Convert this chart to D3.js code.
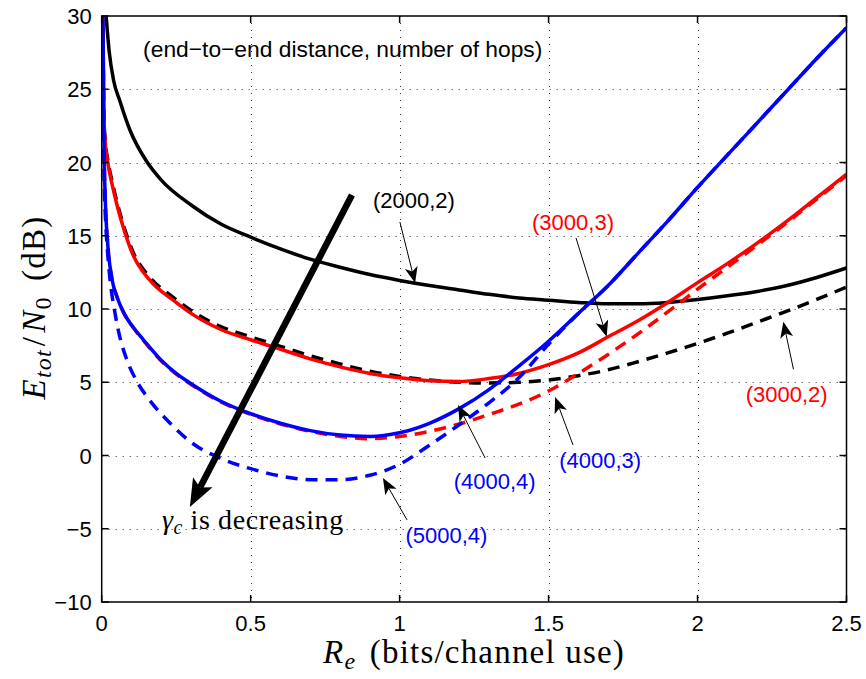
<!DOCTYPE html>
<html>
<head>
<meta charset="utf-8">
<script src="https://cdnjs.cloudflare.com/ajax/libs/d3/7.8.5/d3.min.js"></script>
<style>
body { margin: 0; background: #fff; }
</style>
</head>
<body>
<div id="chart"></div>
<script>
// tick values
var xTicks = [0, 0.5, 1, 1.5, 2, 2.5];
var yTicks = [-10, -5, 0, 5, 10, 15, 20, 25, 30];

// curves: [Re, Etot/N0 dB]
var s2000_2 = [[0.013,30.5],[0.025,27.6],[0.04,25.6],[0.061,24.2],[0.095,22.2],[0.15,20.1],[0.2,18.8],[0.3,17.1],[0.4,15.8],[0.5,14.9],[0.6,14.1],[0.7,13.4],[0.8,12.85],[0.9,12.35],[1.0,11.95],[1.1,11.6],[1.2,11.3],[1.3,11.0],[1.4,10.75],[1.5,10.6],[1.6,10.45],[1.7,10.35],[1.8,10.35],[1.9,10.45],[2.0,10.65],[2.1,10.9],[2.2,11.2],[2.3,11.6],[2.4,12.15],[2.5,12.8]];
var s3000_2 = [[0.004,30.5],[0.007,23.2],[0.012,21.5],[0.022,20.0],[0.035,18.7],[0.05,17.4],[0.075,15.6],[0.105,13.9],[0.16,12.2],[0.24,10.8],[0.3,9.9],[0.4,8.8],[0.5,8.1],[0.6,7.45],[0.7,6.8],[0.8,6.25],[0.9,5.75],[1.0,5.4],[1.1,5.15],[1.2,5.0],[1.3,4.95],[1.4,5.0],[1.5,5.15],[1.6,5.45],[1.7,5.85],[1.8,6.4],[1.9,7.0],[2.0,7.65],[2.1,8.35],[2.2,9.1],[2.3,9.85],[2.4,10.65],[2.5,11.5]];
var s3000_3 = [[0.004,30.5],[0.007,23],[0.012,21.3],[0.022,19.8],[0.035,18.5],[0.05,17.2],[0.075,15.4],[0.105,13.7],[0.16,12.0],[0.24,10.6],[0.3,9.7],[0.4,8.6],[0.5,7.9],[0.6,7.25],[0.7,6.6],[0.8,6.05],[0.9,5.6],[1.0,5.3],[1.1,5.1],[1.2,5.05],[1.3,5.25],[1.4,5.6],[1.5,6.2],[1.6,7.0],[1.7,8.1],[1.8,9.2],[1.9,10.45],[2.0,11.8],[2.1,13.1],[2.2,14.5],[2.3,16.0],[2.4,17.6],[2.5,19.2]];
var s4000_3 = [[0.004,30.5],[0.008,21],[0.012,17.5],[0.02,14.5],[0.035,12.0],[0.05,10.9],[0.075,9.7],[0.1,8.9],[0.14,7.85],[0.2,6.45],[0.25,5.55],[0.3,4.85],[0.4,3.65],[0.5,2.8],[0.6,2.15],[0.7,1.65],[0.8,1.3],[0.9,1.15],[1.0,1.3],[1.1,1.65],[1.2,2.15],[1.3,2.8],[1.4,3.5],[1.5,4.4],[1.6,5.6],[1.7,6.9],[1.8,8.3],[1.9,9.8],[2.0,11.35],[2.1,12.85],[2.2,14.35],[2.3,15.9],[2.4,17.5],[2.5,19.1]];
var s4000_4 = [[0.004,30.5],[0.008,21],[0.012,17.5],[0.02,14.5],[0.035,12.0],[0.05,10.9],[0.075,9.7],[0.1,8.9],[0.14,7.9],[0.2,6.5],[0.25,5.6],[0.3,4.9],[0.4,3.7],[0.5,2.85],[0.6,2.2],[0.7,1.7],[0.8,1.4],[0.9,1.3],[1.0,1.55],[1.1,2.2],[1.2,3.2],[1.3,4.5],[1.4,6.1],[1.5,7.8],[1.6,9.7],[1.7,11.6],[1.8,13.8],[1.9,16.0],[2.0,18.3],[2.1,20.5],[2.2,22.7],[2.3,24.9],[2.4,27.1],[2.5,29.2]];
var s5000_4 = [[0.004,25],[0.008,19],[0.012,16.5],[0.02,13.8],[0.028,12.0],[0.044,9.8],[0.062,8.0],[0.085,6.5],[0.117,5.1],[0.16,3.8],[0.23,2.2],[0.3,0.9],[0.4,-0.2],[0.5,-0.9],[0.6,-1.4],[0.7,-1.65],[0.8,-1.65],[0.9,-1.35],[1.0,-0.6],[1.1,0.7],[1.2,2.1],[1.3,3.6],[1.4,5.3],[1.5,7.6],[1.6,9.7],[1.7,11.6],[1.8,13.8],[1.9,16.0],[2.0,18.3],[2.1,20.5],[2.2,22.7],[2.3,24.9],[2.4,27.1],[2.5,29.2]];

var width = 866;
var height = 679;
var margin = {top: 16, right: 19.5, bottom: 77, left: 101.7};

var svg = d3.select("#chart")
	.append("svg")
	.attr("width", width)
	.attr("height", height);

var x = d3.scaleLinear()
	.domain([0, 2.5])
	.range([margin.left, width - margin.right]);

var y = d3.scaleLinear()
	.domain([-10, 30])
	.range([height - margin.bottom, margin.top]);

svg.append("defs").append("clipPath")
	.attr("id", "plot-clip")
	.append("rect")
	.attr("x", x(0))
	.attr("y", y(30))
	.attr("width", x(2.5) - x(0))
	.attr("height", y(-10) - y(30));

// dotted grid
var grid = svg.append("g")
	.attr("stroke", "#333")
	.attr("stroke-width", 1)
	.attr("stroke-dasharray", "1,6");

grid.selectAll(".vgrid")
	.data(xTicks.slice(1, -1))
	.enter().append("line")
	.attr("x1", function(d) { return Math.round(x(d)) + 0.5; })
	.attr("x2", function(d) { return Math.round(x(d)) + 0.5; })
	.attr("y1", y(30))
	.attr("y2", y(-10));

grid.selectAll(".hgrid")
	.data(yTicks.slice(1, -1))
	.enter().append("line")
	.attr("y1", function(d) { return Math.round(y(d)) + 0.5; })
	.attr("y2", function(d) { return Math.round(y(d)) + 0.5; })
	.attr("x1", x(0))
	.attr("x2", x(2.5));

// curves
var line = d3.line()
	.x(function(d) { return x(d[0]); })
	.y(function(d) { return y(d[1]); })
	.curve(d3.curveMonotoneX);

var series = [
	{data: s2000_2, color: "#000000", dash: null},
	{data: s3000_2, color: "#000000", dash: "12,8"},
	{data: s3000_3, color: "#ff0000", dash: null},
	{data: s4000_3, color: "#ff0000", dash: "12,8"},
	{data: s4000_4, color: "#0000ff", dash: null},
	{data: s5000_4, color: "#0000ff", dash: "12,8"}
];

var curves = svg.append("g")
	.attr("clip-path", "url(#plot-clip)");

curves.selectAll("path")
	.data(series)
	.enter().append("path")
	.attr("d", function(d) { return line(d.data); })
	.attr("fill", "none")
	.attr("stroke", function(d) { return d.color; })
	.attr("stroke-width", 3.5)
	.attr("stroke-dasharray", function(d) { return d.dash; });

// axes box + inward ticks
var tickLen = 7;
var axes = svg.append("g")
	.attr("stroke", "#000")
	.attr("stroke-width", 1.5)
	.attr("fill", "none");

axes.append("rect")
	.attr("x", x(0))
	.attr("y", y(30))
	.attr("width", x(2.5) - x(0))
	.attr("height", y(-10) - y(30));

xTicks.forEach(function(t) {
	axes.append("line").attr("x1", x(t)).attr("x2", x(t)).attr("y1", y(-10)).attr("y2", y(-10) - tickLen);
	axes.append("line").attr("x1", x(t)).attr("x2", x(t)).attr("y1", y(30)).attr("y2", y(30) + tickLen);
});
yTicks.forEach(function(t) {
	axes.append("line").attr("y1", y(t)).attr("y2", y(t)).attr("x1", x(0)).attr("x2", x(0) + tickLen);
	axes.append("line").attr("y1", y(t)).attr("y2", y(t)).attr("x1", x(2.5)).attr("x2", x(2.5) - tickLen);
});

var sans = "'Liberation Sans', Arial, Helvetica, sans-serif";
var serif = "'Liberation Serif', 'Times New Roman', serif";

svg.append("g").selectAll("text")
	.data(xTicks)
	.enter().append("text")
	.attr("x", function(d) { return x(d); })
	.attr("y", y(-10) + 29)
	.attr("text-anchor", "middle")
	.attr("font-family", sans)
	.attr("font-size", 22)
	.text(function(d) { return d3.format("~g")(d); });

svg.append("g").selectAll("text")
	.data(yTicks)
	.enter().append("text")
	.attr("x", x(0) - 10)
	.attr("y", function(d) { return y(d) + 8; })
	.attr("text-anchor", "end")
	.attr("font-family", sans)
	.attr("font-size", 22)
	.text(function(d) { return d < 0 ? "\u2212" + Math.abs(d) : d; });

// axis labels
var xl = svg.append("text")
	.attr("x", (x(0) + x(2.5)) / 2)
	.attr("y", 663)
	.attr("text-anchor", "middle")
	.attr("font-family", serif)
	.attr("font-size", 33)
	.attr("letter-spacing", 1.2);
xl.append("tspan").attr("font-style", "italic").text("R");
xl.append("tspan").attr("font-style", "italic").attr("font-size", 24).attr("dy", 6).text("e");
xl.append("tspan").attr("dy", -6).attr("dx", 4).text("\u00a0(bits/channel use)");

var yl = svg.append("text")
	.attr("transform", "translate(45," + y(10.1) + ") rotate(-90)")
	.attr("text-anchor", "middle")
	.attr("font-family", serif)
	.attr("font-size", 33)
	.attr("letter-spacing", 1.2);
yl.append("tspan").attr("font-style", "italic").text("E");
yl.append("tspan").attr("font-style", "italic").attr("font-size", 24).attr("dy", 6).text("tot");
yl.append("tspan").attr("dy", -6).attr("dx", 3).text("/");
yl.append("tspan").attr("font-style", "italic").attr("dx", 3).text("N");
yl.append("tspan").attr("font-size", 24).attr("dy", 6).text("0");
yl.append("tspan").attr("dy", -6).attr("dx", 6).text("\u00a0(dB)");

// annotations (data units)
var labels = [
	{text: "(2000,2)", x: 1.048, y: 16.89, color: "#000000"},
	{text: "(3000,3)", x: 1.582, y: 15.39, color: "#ff0000"},
	{text: "(3000,2)", x: 2.299, y: 3.67, color: "#ff0000"},
	{text: "(4000,3)", x: 1.673, y: -0.85, color: "#0000ff"},
	{text: "(4000,4)", x: 1.319, y: -2.29, color: "#0000ff"},
	{text: "(5000,4)", x: 1.157, y: -5.97, color: "#0000ff"}
];

var arrows = [
	{x1: 1.001, y1: 15.94, x2: 1.052, y2: 11.77},
	{x1: 1.592, y1: 14.85, x2: 1.695, y2: 8.11},
	{x1: 2.322, y1: 5.88, x2: 2.288, y2: 9.13},
	{x1: 1.582, y1: 0.72, x2: 1.522, y2: 3.99},
	{x1: 1.287, y1: -0.17, x2: 1.196, y2: 3.45},
	{x1: 1.025, y1: -4.40, x2: 0.944, y2: -1.54}
];

svg.append("g").selectAll("text")
	.data(labels)
	.enter().append("text")
	.attr("x", function(d) { return x(d.x); })
	.attr("y", function(d) { return y(d.y); })
	.attr("text-anchor", "middle")
	.attr("font-family", sans)
	.attr("font-size", 22)
	.attr("fill", function(d) { return d.color; })
	.text(function(d) { return d.text; });

function drawArrow(g, a, lw, len, half, back) {
	var x1 = x(a.x1), y1 = y(a.y1), x2 = x(a.x2), y2 = y(a.y2);
	var dx = x2 - x1, dy = y2 - y1;
	var L = Math.sqrt(dx * dx + dy * dy);
	var ux = dx / L, uy = dy / L;
	var px = -uy, py = ux;
	var bx = x2 - ux * len, by = y2 - uy * len;
	var ix = x2 - ux * (len - back), iy = y2 - uy * (len - back);
	g.append("line")
		.attr("x1", x1).attr("y1", y1)
		.attr("x2", ix).attr("y2", iy)
		.attr("stroke", "#000")
		.attr("stroke-width", lw);
	g.append("path")
		.attr("d", "M" + x2 + "," + y2 +
			"L" + (bx + px * half) + "," + (by + py * half) +
			"L" + ix + "," + iy +
			"L" + (bx - px * half) + "," + (by - py * half) + "Z")
		.attr("fill", "#000");
}

var arrowLayer = svg.append("g");
arrows.forEach(function(a) { drawArrow(arrowLayer, a, 1, 16, 6.5, 4); });

// big "decreasing" arrow
drawArrow(arrowLayer, {x1: 0.840, y1: 17.78, x2: 0.296, y2: -3.52}, 6.5, 28, 11, 6);

var gl = svg.append("text")
	.attr("x", x(0.202))
	.attr("y", y(-5.02))
	.attr("font-family", serif)
	.attr("font-size", 28)
	.attr("letter-spacing", 0.6);
gl.append("tspan").attr("font-style", "italic").text("\u03b3");
gl.append("tspan").attr("font-style", "italic").attr("font-size", 20).attr("dy", 5).text("c");
gl.append("tspan").attr("dy", -5).text("\u00a0is decreasing");

svg.append("text")
	.attr("x", x(0.139))
	.attr("y", y(27.2))
	.attr("font-family", sans)
	.attr("font-size", 22.8)
	.text("(end\u2212to\u2212end distance, number of hops)");
</script>
</body>
</html>
